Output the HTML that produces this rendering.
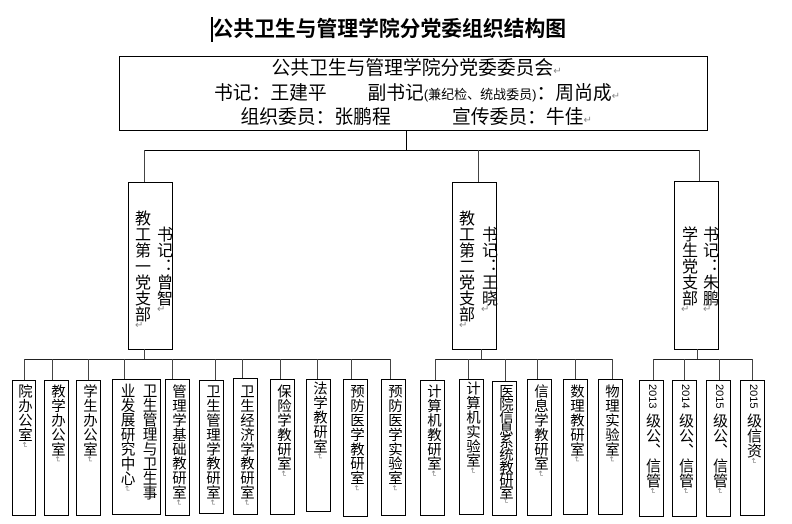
<!DOCTYPE html>
<html><head><meta charset="utf-8">
<style>
*{margin:0;padding:0;box-sizing:border-box}
body{width:792px;height:524px;background:#fff;position:relative;overflow:hidden;font-family:"Liberation Sans","Noto Sans CJK SC",sans-serif;color:#000}
.a{position:absolute;white-space:nowrap}
.b{position:absolute;border:1px solid #000;background:#fff}
.h{position:absolute;height:1px;background:#222}
.v{position:absolute;width:1px;background:#444}
.r{color:#888;font-size:10px}
.col{position:absolute;writing-mode:vertical-rl;white-space:nowrap}
.m{font-size:16px;width:22px;line-height:22px;text-align:center}
.s{font-size:14.4px;top:384px;line-height:24px}
.s .r{font-size:8px}
.dg{font-size:11px}
</style></head><body>

<!-- title -->
<div class="a" style="left:211px;top:17px;width:2px;height:25px;background:#000"></div>
<div class="a" style="left:212.5px;top:18px;line-height:24px;font-size:20.8px;font-weight:bold">公共卫生与管理学院分党委组织结构图</div>

<!-- top box -->
<div class="b" style="left:119px;top:56px;width:589px;height:75px"></div>
<div class="a" style="left:271.5px;top:56.5px;line-height:22px;font-size:18.8px">公共卫生与管理学院分党委委员会<span class="r">↵</span></div>
<div class="a" style="left:214px;top:82px;line-height:22px;font-size:18.8px">书记：王建平</div>
<div class="a" style="left:367.5px;top:82px;line-height:22px;font-size:18.8px">副书记<span style="font-size:13px">(兼纪检、统战委员)</span>：周尚成<span class="r">↵</span></div>
<div class="a" style="left:240.5px;top:105.5px;line-height:22px;font-size:18.8px">组织委员：张鹏程</div>
<div class="a" style="left:452px;top:105.5px;line-height:22px;font-size:18.8px">宣传委员：牛佳<span class="r">↵</span></div>

<!-- top connectors -->
<div class="v" style="left:406px;top:130px;height:20px;background:#000"></div>
<div class="h" style="left:144px;top:150px;width:556px;background:#000"></div>
<div class="v" style="left:144px;top:150px;height:32px"></div>
<div class="v" style="left:478px;top:150px;height:32px"></div>
<div class="v" style="left:699px;top:150px;height:31px"></div>

<!-- middle boxes -->
<div class="b" style="left:128px;top:182px;width:45px;height:168px"></div>
<div class="col m" style="left:129px;top:182px;height:168px">教工第一党支部</div>
<div class="col m" style="left:151px;top:182px;height:168px">书记：曾智</div>
<div class="a r" style="left:135px;top:320px">↵</div>
<div class="a r" style="left:157px;top:304px">↵</div>

<div class="b" style="left:452px;top:182px;width:45px;height:168px"></div>
<div class="col m" style="left:453px;top:182px;height:168px">教工第二党支部</div>
<div class="col m" style="left:476px;top:182px;height:168px">书记：王晓</div>
<div class="a r" style="left:459px;top:320px">↵</div>
<div class="a r" style="left:481px;top:304px">↵</div>

<div class="b" style="left:674px;top:181px;width:45px;height:169px"></div>
<div class="col m" style="left:676px;top:181px;height:169px">学生党支部</div>
<div class="col m" style="left:697px;top:181px;height:169px">书记：朱鹏</div>
<div class="a r" style="left:681px;top:304px">↵</div>
<div class="a r" style="left:703px;top:304px">↵</div>

<!-- down connectors and buses -->
<div class="v" style="left:144px;top:349px;height:10px"></div>
<div class="v" style="left:481px;top:349px;height:10px"></div>
<div class="v" style="left:697px;top:349px;height:10px"></div>
<div class="h" style="left:24px;top:359px;width:367px"></div>
<div class="h" style="left:435px;top:359px;width:178px"></div>
<div class="h" style="left:653px;top:359px;width:100px"></div>

<!-- bottom connectors -->
<div class="v" style="left:24px;top:359px;height:21px"></div>
<div class="v" style="left:52px;top:359px;height:21px"></div>
<div class="v" style="left:88px;top:359px;height:21px"></div>
<div class="v" style="left:124px;top:359px;height:20px"></div>
<div class="v" style="left:172px;top:359px;height:20px"></div>
<div class="v" style="left:215px;top:359px;height:21px"></div>
<div class="v" style="left:242px;top:359px;height:19px"></div>
<div class="v" style="left:280px;top:359px;height:20px"></div>
<div class="v" style="left:317px;top:359px;height:20px"></div>
<div class="v" style="left:351px;top:359px;height:20px"></div>
<div class="v" style="left:390px;top:359px;height:20px"></div>
<div class="v" style="left:435px;top:359px;height:21px"></div>
<div class="v" style="left:468px;top:359px;height:20px"></div>
<div class="v" style="left:505px;top:359px;height:22px"></div>
<div class="v" style="left:537px;top:359px;height:20px"></div>
<div class="v" style="left:575px;top:359px;height:20px"></div>
<div class="v" style="left:612px;top:359px;height:20px"></div>
<div class="v" style="left:653px;top:359px;height:21px"></div>
<div class="v" style="left:684px;top:359px;height:21px"></div>
<div class="v" style="left:719px;top:359px;height:21px"></div>
<div class="v" style="left:752px;top:359px;height:21px"></div>

<!-- bottom boxes -->
<div class="b" style="left:12px;top:380px;width:24px;height:136px"></div>
<div class="col s" style="left:12px;width:24px">院办公室<span class="r">↵</span></div>

<div class="b" style="left:44px;top:380px;width:25px;height:136px"></div>
<div class="col s" style="left:44px;width:25px">教学办公室<span class="r">↵</span></div>

<div class="b" style="left:76px;top:380px;width:25px;height:136px"></div>
<div class="col s" style="left:76px;width:25px">学生办公室<span class="r">↵</span></div>

<div class="b" style="left:112px;top:379px;width:49px;height:136px"></div>
<div class="col s" style="left:116.5px;width:42px;line-height:21px;top:383px;font-size:14.6px">卫生管理与卫生事<br>业发展研究中心<span class="r">↵</span></div>

<div class="b" style="left:165px;top:379px;width:25px;height:137px"></div>
<div class="col s" style="left:165px;width:25px">管理学基础教研室<span class="r">↵</span></div>

<div class="b" style="left:199px;top:380px;width:25px;height:134px"></div>
<div class="col s" style="left:199px;width:25px">卫生管理学教研室<span class="r">↵</span></div>

<div class="b" style="left:233px;top:378px;width:25px;height:137px"></div>
<div class="col s" style="left:233px;width:25px">卫生经济学教研室<span class="r">↵</span></div>

<div class="b" style="left:270px;top:379px;width:25px;height:136px"></div>
<div class="col s" style="left:270px;width:25px">保险学教研室<span class="r">↵</span></div>

<div class="b" style="left:306px;top:379px;width:25px;height:133px"></div>
<div class="col s" style="left:306px;width:25px;top:381px">法学教研室<span class="r">↵</span></div>

<div class="b" style="left:343px;top:379px;width:25px;height:138px"></div>
<div class="col s" style="left:343px;width:25px">预防医学教研室<span class="r">↵</span></div>

<div class="b" style="left:381px;top:379px;width:25px;height:137px"></div>
<div class="col s" style="left:381px;width:25px">预防医学实验室<span class="r">↵</span></div>

<div class="b" style="left:420px;top:380px;width:25px;height:136px"></div>
<div class="col s" style="left:420px;width:25px">计算机教研室<span class="r">↵</span></div>

<div class="b" style="left:459px;top:379px;width:25px;height:136px"></div>
<div class="col s" style="left:459px;width:25px;top:381px">计算机实验室<span class="r">↵</span></div>

<div class="b" style="left:492px;top:381px;width:25px;height:135px"></div>
<div class="col s" style="left:492px;width:25px;letter-spacing:-1.8px">医院信息系统教研室<span class="r">↵</span></div>

<div class="b" style="left:527px;top:379px;width:25px;height:137px"></div>
<div class="col s" style="left:527px;width:25px">信息学教研室<span class="r">↵</span></div>

<div class="b" style="left:563px;top:379px;width:25px;height:136px"></div>
<div class="col s" style="left:563px;width:25px">数理教研室<span class="r">↵</span></div>

<div class="b" style="left:598px;top:379px;width:25px;height:136px"></div>
<div class="col s" style="left:598px;width:25px">物理实验室<span class="r">↵</span></div>

<div class="b" style="left:639px;top:380px;width:25px;height:137px"></div>
<div class="col s" style="left:639px;width:25px;font-size:15px"><span class="dg">2013</span> 级公、信管<span class="r">↵</span></div>

<div class="b" style="left:672px;top:380px;width:25px;height:137px"></div>
<div class="col s" style="left:672px;width:25px;font-size:15px"><span class="dg">2014</span> 级公、信管<span class="r">↵</span></div>

<div class="b" style="left:706px;top:380px;width:25px;height:137px"></div>
<div class="col s" style="left:706px;width:25px;font-size:15px"><span class="dg">2015</span> 级公、信管<span class="r">↵</span></div>

<div class="b" style="left:740px;top:380px;width:25px;height:136px"></div>
<div class="col s" style="left:740px;width:25px;font-size:15px"><span class="dg">2015</span> 级信资<span class="r">↵</span></div>

</body></html>
